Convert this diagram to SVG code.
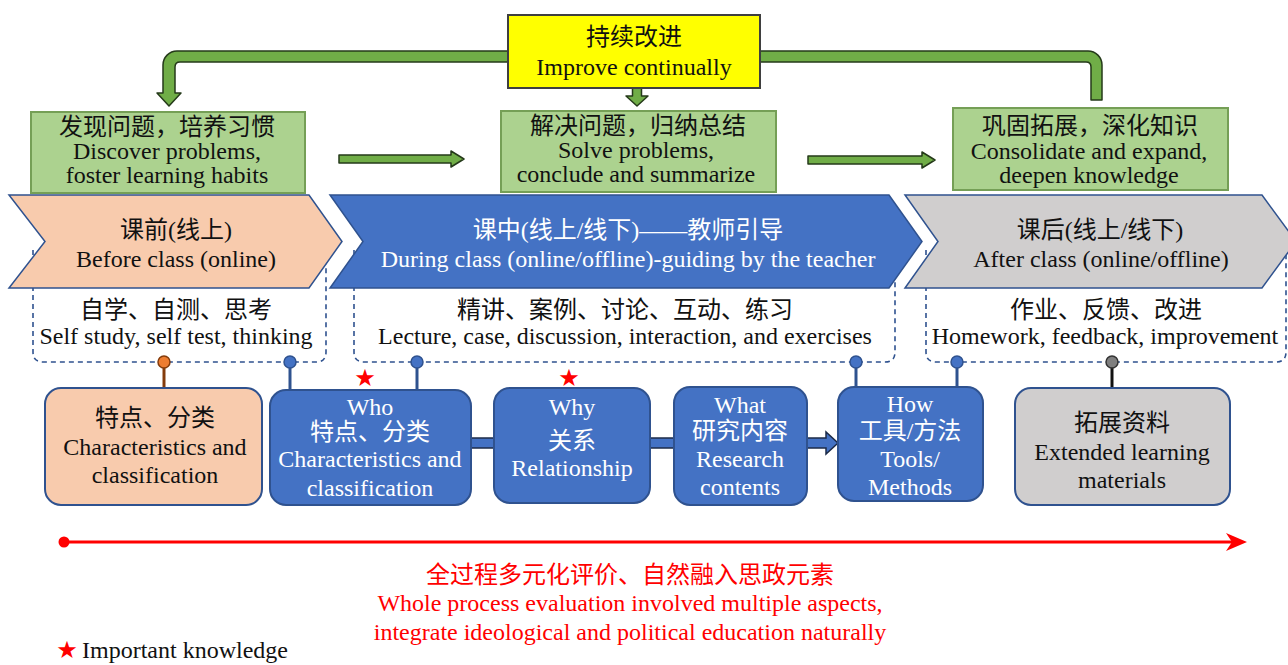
<svg xmlns="http://www.w3.org/2000/svg" width="1288" height="665" viewBox="0 0 1288 665">
<style>
text{font-family:"Liberation Serif","Noto Sans CJK SC",serif;font-size:24px;text-anchor:middle;fill:#111}
.w{fill:#fff}
.r{fill:#ff0000}
.star{font-family:"DejaVu Sans",sans-serif;fill:#ff0000}
.gbox{fill:#acd28f;stroke:#759f56;stroke-width:2}
.garrow{fill:#70ad47;stroke:#253a1a;stroke-width:1.5;stroke-linejoin:round}
.chev{stroke:#2f528f;stroke-width:1.5}
.dash{fill:none;stroke:#2f528f;stroke-width:1.6;stroke-dasharray:5 4}
.bbox{stroke:#2f528f;stroke-width:2}
.blue{fill:#4472c4}
.pinb{fill:#4472c4;stroke:#2f528f;stroke-width:1.5}
.stickb{stroke:#2f528f;stroke-width:3}
.bar{fill:#4472c4;stroke:#1c2b48;stroke-width:1.5}
</style>

<g id="connectors">
  <path class="garrow" d="M508 51 L177 51 A14 14 0 0 0 163 65 L163 93 L157 93 L169 106 L181 93 L175 93 L175 67 Q175 62 180 62 L508 62 Z"/>
  <path class="garrow" d="M760 51 L1088 51 A14 14 0 0 1 1102 65 L1102 100 L1091 100 L1091 67 Q1091 62 1086 62 L760 62 Z"/>
  <path class="garrow" d="M632.5 88 L641.5 88 L641.5 96 L648 96 L637 106 L626 96 L632.5 96 Z"/>
  <path class="garrow" d="M339 155 L451 155 L451 151 L464 159 L451 167 L451 163 L339 163 Z"/>
  <path class="garrow" d="M808 156 L922 156 L922 152 L935 160 L922 168 L922 164 L808 164 Z"/>
  <path class="dash" d="M33 250 L33 352 Q33 362 43 362 L316 362 Q326 362 326 352 L326 250"/>
  <path class="dash" d="M354 250 L354 352 Q354 362 364 362 L885 362 Q895 362 895 352 L895 250"/>
  <path class="dash" d="M926 250 L926 352 Q926 362 936 362 L1276 362 Q1286 362 1286 352 L1286 250"/>
  <line x1="164" y1="366" x2="164" y2="389" stroke="#843c0c" stroke-width="3"/>
  <circle cx="164" cy="362" r="6" fill="#ed7d31" stroke="#843c0c" stroke-width="1.5"/>
  <line class="stickb" x1="290" y1="366" x2="290" y2="391"/>
  <circle class="pinb" cx="290" cy="362" r="6"/>
  <line class="stickb" x1="417" y1="366" x2="417" y2="391"/>
  <circle class="pinb" cx="417" cy="362" r="6"/>
  <line class="stickb" x1="856" y1="366" x2="856" y2="388"/>
  <circle class="pinb" cx="856" cy="362" r="6"/>
  <line class="stickb" x1="957" y1="366" x2="957" y2="388"/>
  <circle class="pinb" cx="957" cy="362" r="6"/>
  <line x1="1112" y1="366" x2="1112" y2="389" stroke="#111" stroke-width="3"/>
  <circle cx="1112" cy="362" r="6" fill="#7f7f7f" stroke="#333" stroke-width="1.5"/>
  <rect class="bar" x="470" y="438" width="25" height="10"/>
  <rect class="bar" x="649" y="438" width="25" height="10"/>
  <path class="bar" d="M806 438 L826 438 L826 432 L838 443 L826 454 L826 448 L806 448 Z"/>
  <line x1="64" y1="542" x2="1234" y2="542" stroke="#ff0000" stroke-width="3"/>
  <circle cx="64" cy="542" r="5.5" fill="#ff0000"/>
  <path d="M1226 533 L1247 542 L1226 551 L1232 542 Z" fill="#ff0000"/>
</g>

<g id="improve">
  <rect x="508" y="15" width="252" height="73" fill="#ffff00" stroke="#3f3f3f" stroke-width="2"/>
  <text x="634" y="45">持续改进</text>
  <text x="634" y="75">Improve continually</text>
</g>

<g id="discover">
  <rect class="gbox" x="31" y="112" width="274" height="81"/>
  <text x="167" y="135">发现问题，培养习惯</text>
  <text x="167" y="159">Discover problems,</text>
  <text x="167" y="183">foster learning habits</text>
</g>

<g id="solve">
  <rect class="gbox" x="501" y="111" width="275" height="81"/>
  <text x="638" y="134">解决问题，归纳总结</text>
  <text x="636" y="158">Solve problems,</text>
  <text x="636" y="182">conclude and summarize</text>
</g>

<g id="consolidate">
  <rect class="gbox" x="953" y="108" width="275" height="82"/>
  <text x="1090" y="134">巩固拓展，深化知识</text>
  <text x="1089" y="159">Consolidate and expand,</text>
  <text x="1089" y="183">deepen knowledge</text>
</g>

<g id="before">
  <path class="chev" fill="#f8cbad" d="M9 195 L309 195 L342 241.5 L309 288 L9 288 L45 241.5 Z"/>
  <text x="176" y="238">课前(线上)</text>
  <text x="176" y="267">Before class (online)</text>
  <text x="176" y="318">自学、自测、思考</text>
  <text x="176" y="344">Self study, self test, thinking</text>
</g>

<g id="during">
  <path class="chev" fill="#4472c4" d="M330 195 L889 195 L922 241.5 L889 288 L330 288 L363 241.5 Z"/>
  <text class="w" x="628" y="238">课中(线上/线下)——教师引导</text>
  <text class="w" x="628" y="267">During class (online/offline)-guiding by the teacher</text>
  <text x="625" y="318">精讲、案例、讨论、互动、练习</text>
  <text x="625" y="344">Lecture, case, discussion, interaction, and exercises</text>
</g>

<g id="after">
  <path class="chev" fill="#d0cece" d="M905 195 L1262 195 L1296 241.5 L1262 288 L905 288 L938 241.5 Z"/>
  <text x="1100" y="238">课后(线上/线下)</text>
  <text x="1101" y="267">After class (online/offline)</text>
  <text x="1106" y="318">作业、反馈、改进</text>
  <text x="1105" y="344">Homework, feedback, improvement</text>
</g>

<g id="char-before">
  <rect class="bbox" x="45" y="388" width="217" height="117" rx="16" fill="#f8cbad"/>
  <text x="155" y="426">特点、分类</text>
  <text x="155" y="455">Characteristics and</text>
  <text x="155" y="483">classification</text>
</g>

<g id="who">
  <rect class="bbox blue" x="270" y="390" width="201" height="115" rx="16"/>
  <text class="w" x="370" y="415">Who</text>
  <text class="w" x="370" y="440">特点、分类</text>
  <text class="w" x="370" y="467">Characteristics and</text>
  <text class="w" x="370" y="496">classification</text>
</g>

<g id="why">
  <rect class="bbox blue" x="494" y="388" width="156" height="115" rx="16"/>
  <text class="w" x="572" y="415">Why</text>
  <text class="w" x="572" y="449">关系</text>
  <text class="w" x="572" y="476">Relationship</text>
</g>

<g id="what">
  <rect class="bbox blue" x="674" y="387" width="133" height="118" rx="16"/>
  <text class="w" x="740" y="413">What</text>
  <text class="w" x="740" y="439">研究内容</text>
  <text class="w" x="740" y="467">Research</text>
  <text class="w" x="740" y="495">contents</text>
</g>

<g id="how">
  <rect class="bbox blue" x="838" y="387" width="145" height="114" rx="16"/>
  <text class="w" x="910" y="412">How</text>
  <text class="w" x="910" y="439">工具/方法</text>
  <text class="w" x="910" y="467">Tools/</text>
  <text class="w" x="910" y="495">Methods</text>
</g>

<g id="extended">
  <rect class="bbox" x="1015" y="388" width="215" height="117" rx="16" fill="#d0cece"/>
  <text x="1122" y="431">拓展资料</text>
  <text x="1122" y="460">Extended learning</text>
  <text x="1122" y="488">materials</text>
</g>

<g id="stars">
  <text class="star" x="365" y="386" font-size="16">★</text>
  <text class="star" x="569" y="386" font-size="16">★</text>
</g>

<g id="evaluation">
  <text class="r" x="630" y="583">全过程多元化评价、自然融入思政元素</text>
  <text class="r" x="630" y="611">Whole process evaluation involved multiple aspects,</text>
  <text class="r" x="630" y="640">integrate ideological and political education naturally</text>
</g>

<g id="legend">
  <text class="star" x="67" y="658" font-size="18">★</text>
  <text x="82" y="658" style="text-anchor:start">Important knowledge</text>
</g>
</svg>
